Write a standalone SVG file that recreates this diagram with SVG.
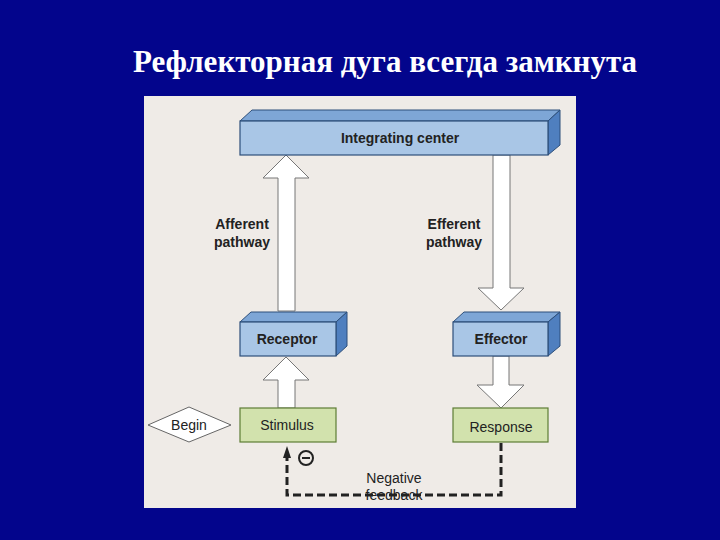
<svg xmlns="http://www.w3.org/2000/svg" width="720" height="540" viewBox="0 0 720 540">
<style>
.box{fill:#a9c6e6;stroke:#2d4f7a;stroke-width:1.2}
.top{fill:#7ea6d6;stroke:#2d4f7a;stroke-width:1}
.side{fill:#4f7fbf;stroke:#2d4f7a;stroke-width:1}
.grn{fill:#d2e2ad;stroke:#5d7d35;stroke-width:1.2}
.arr{fill:#ffffff;stroke:#777;stroke-width:1}
.t{font-family:"Liberation Sans",Arial,sans-serif;font-size:14px;fill:#222;text-anchor:middle}
.b{font-weight:bold}
</style>
<rect width="720" height="540" fill="#03058c"/>
<text x="385" y="72" font-family="'Liberation Serif','Times New Roman',serif" font-weight="bold" font-size="31" fill="#fff" text-anchor="middle">Рефлекторная дуга всегда замкнута</text>
<rect x="144" y="96" width="432" height="412" fill="#efebe7"/>
<g id="connectors">
<polygon class="arr" points="278,311 278,178 263,178 286,155 309,178 295,178 295,311"/>
<polygon class="arr" points="493,155 493,288 478,288 501,310 524,288 510,288 510,155"/>
<polygon class="arr" points="278,408 278,380 263,380 286,357 309,380 295,380 295,408"/>
<polygon class="arr" points="493,356 493,385 477,385 501,408 524,385 509,385 509,356"/>
<polyline points="501,443 501,495 287,495 287,456" fill="none" stroke="#222" stroke-width="3" stroke-dasharray="8,4"/>
<polygon points="283,458 291,458 287,446" fill="#222"/>
<circle cx="306" cy="458" r="7" fill="none" stroke="#222" stroke-width="2"/>
<line x1="302" y1="458" x2="310" y2="458" stroke="#222" stroke-width="2"/>
<text class="t" x="394" y="483">Negative</text>
<text class="t" x="394" y="500">feedback</text>
<text class="t b" x="242" y="229">Afferent</text>
<text class="t b" x="242" y="247">pathway</text>
<text class="t b" x="454" y="229">Efferent</text>
<text class="t b" x="454" y="247">pathway</text>
</g>
<g id="integrating">
<polygon class="top" points="240,121 252,110 560,110 548,121"/>
<polygon class="side" points="548,121 560,110 560,145 548,155"/>
<rect class="box" x="240" y="121" width="308" height="34"/>
<text class="t b" x="400" y="143">Integrating center</text>
</g>
<g id="receptor">
<polygon class="top" points="240,322 251,312 347,312 336,322"/>
<polygon class="side" points="336,322 347,312 347,346 336,356"/>
<rect class="box" x="240" y="322" width="96" height="34"/>
<text class="t b" x="287" y="344">Receptor</text>
</g>
<g id="effector">
<polygon class="top" points="453,322 464,312 560,312 548,322"/>
<polygon class="side" points="548,322 560,312 560,346 548,356"/>
<rect class="box" x="453" y="322" width="95" height="34"/>
<text class="t b" x="501" y="344">Effector</text>
</g>
<g id="stimulus">
<rect class="grn" x="240" y="408" width="96" height="34"/>
<text class="t" x="287" y="430">Stimulus</text>
</g>
<g id="response">
<rect class="grn" x="453" y="408" width="95" height="34"/>
<text class="t" x="501" y="432">Response</text>
</g>
<g id="begin">
<polygon points="148,425 189,407 231,425 189,442" fill="#fff" stroke="#666" stroke-width="1"/>
<text class="t" x="189" y="430">Begin</text>
</g>
</svg>
